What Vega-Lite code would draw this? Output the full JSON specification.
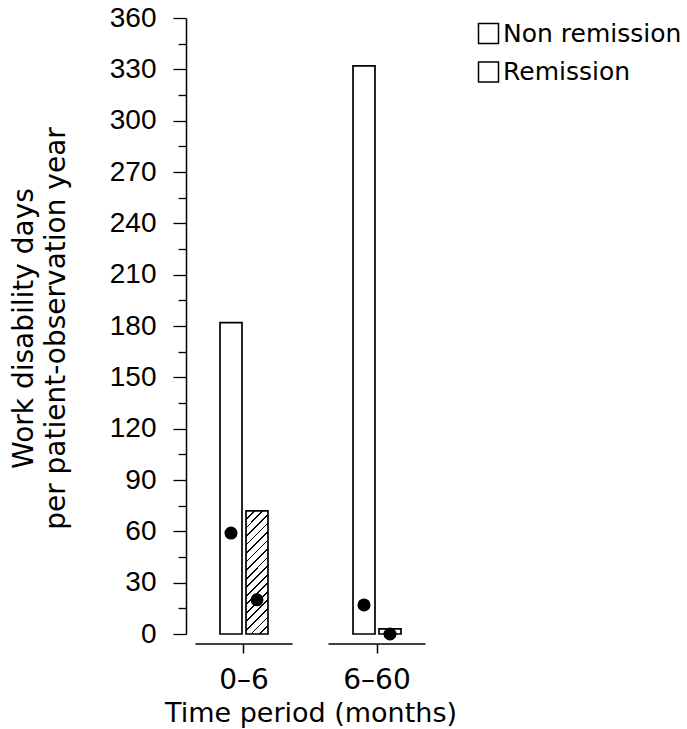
{
  "$schema": "https://vega.github.io/schema/vega-lite/v6.json",
  "width": 249,
  "height": 616,
  "autosize": {"type": "none"},
  "padding": {"left": 186, "top": 18, "right": 252, "bottom": 95},
  "background": "white",
  "config": {"view": {"stroke": null}, "font": "DejaVu Sans"},
  "data": {
    "values": [
      {"period": "0–6", "group": "Non remission", "days": 182, "dot": 59},
      {"period": "0–6", "group": "Remission", "days": 72, "dot": 20},
      {"period": "6–60", "group": "Non remission", "days": 332, "dot": 17},
      {"period": "6–60", "group": "Remission", "days": 3, "dot": 0}
    ]
  },
  "encoding": {
    "x": {
      "field": "period",
      "type": "nominal",
      "sort": null,
      "scale": {"domain": ["0–6", "6–60"], "paddingInner": 0.2707, "paddingOuter": 0.0714},
      "axis": {
        "title": "Time period (months)",
        "titleFont": "DejaVu Sans",
        "titleFontSize": 27,
        "titleFontWeight": "normal",
        "titleColor": "black",
        "titleY": 56,
        "titleBaseline": "top",
        "labelFont": "DejaVu Sans",
        "labelFontSize": 28,
        "labelColor": "black",
        "labelAngle": 0,
        "labelPadding": 13,
        "domain": false,
        "ticks": true,
        "tickSize": 9,
        "tickColor": "black",
        "tickWidth": 1.5,
        "offset": 10,
        "grid": false
      }
    }
  },
  "resolve": {"axis": {"y": "independent"}},
  "layer": [
    {
      "transform": [{"filter": "datum.group === 'Non remission'"}],
      "mark": {"type": "tick", "size": 97, "thickness": 1.5, "color": "black", "opacity": 1, "orient": "horizontal"},
      "encoding": {
        "y": {"datum": -5.84, "type": "quantitative", "axis": null}
      }
    },
    {
      "mark": {"type": "bar", "strokeWidth": 1.7},
      "encoding": {
        "xOffset": {
          "field": "group",
          "type": "nominal",
          "scale": {"domain": ["Non remission", "Remission"], "paddingInner": 0.154, "paddingOuter": 0.942}
        },
        "y": {
          "field": "days",
          "type": "quantitative",
          "scale": {"domain": [0, 360], "nice": false, "zero": true},
          "axis": {
            "title": ["Work disability days", "per patient-observation year"],
            "titleFont": "DejaVu Sans",
            "titleFontSize": 28,
            "titleFontWeight": "normal",
            "titleColor": "black",
            "titleLineHeight": 32,
            "titleX": -154,
            "titleY": 310,
            "titleAngle": -90,
            "titleAlign": "center",
            "titleBaseline": "alphabetic",
            "values": [0, 30, 60, 90, 120, 150, 180, 210, 240, 270, 300, 330, 360],
            "format": "d",
            "labelFont": "Liberation Sans",
            "labelFontSize": 28,
            "labelColor": "black",
            "labelPadding": 17,
            "tickSize": 13,
            "tickColor": "black",
            "tickWidth": 1.3,
            "domainColor": "black",
            "domainWidth": 1.5,
            "grid": false
          }
        },
        "fill": {
          "condition": {
            "test": "datum.group === 'Remission' && datum.days > 10",
            "value": {
              "gradient": "linear",
              "x1": 0, "y1": 0, "x2": 0.2043, "y2": 1.1423,
              "stops": [
                {"offset": 0, "color": "white"},
                {"offset": 0.0528, "color": "white"}, {"offset": 0.0528, "color": "black"}, {"offset": 0.0648, "color": "black"}, {"offset": 0.0648, "color": "white"},
                {"offset": 0.1116, "color": "white"}, {"offset": 0.1116, "color": "black"}, {"offset": 0.1236, "color": "black"}, {"offset": 0.1236, "color": "white"},
                {"offset": 0.1705, "color": "white"}, {"offset": 0.1705, "color": "black"}, {"offset": 0.1825, "color": "black"}, {"offset": 0.1825, "color": "white"},
                {"offset": 0.2293, "color": "white"}, {"offset": 0.2293, "color": "black"}, {"offset": 0.2413, "color": "black"}, {"offset": 0.2413, "color": "white"},
                {"offset": 0.2881, "color": "white"}, {"offset": 0.2881, "color": "black"}, {"offset": 0.3001, "color": "black"}, {"offset": 0.3001, "color": "white"},
                {"offset": 0.3469, "color": "white"}, {"offset": 0.3469, "color": "black"}, {"offset": 0.3589, "color": "black"}, {"offset": 0.3589, "color": "white"},
                {"offset": 0.4058, "color": "white"}, {"offset": 0.4058, "color": "black"}, {"offset": 0.4178, "color": "black"}, {"offset": 0.4178, "color": "white"},
                {"offset": 0.4646, "color": "white"}, {"offset": 0.4646, "color": "black"}, {"offset": 0.4766, "color": "black"}, {"offset": 0.4766, "color": "white"},
                {"offset": 0.5234, "color": "white"}, {"offset": 0.5234, "color": "black"}, {"offset": 0.5354, "color": "black"}, {"offset": 0.5354, "color": "white"},
                {"offset": 0.5822, "color": "white"}, {"offset": 0.5822, "color": "black"}, {"offset": 0.5942, "color": "black"}, {"offset": 0.5942, "color": "white"},
                {"offset": 0.6411, "color": "white"}, {"offset": 0.6411, "color": "black"}, {"offset": 0.6531, "color": "black"}, {"offset": 0.6531, "color": "white"},
                {"offset": 0.6999, "color": "white"}, {"offset": 0.6999, "color": "black"}, {"offset": 0.7119, "color": "black"}, {"offset": 0.7119, "color": "white"},
                {"offset": 0.7587, "color": "white"}, {"offset": 0.7587, "color": "black"}, {"offset": 0.7707, "color": "black"}, {"offset": 0.7707, "color": "white"},
                {"offset": 0.8175, "color": "white"}, {"offset": 0.8175, "color": "black"}, {"offset": 0.8295, "color": "black"}, {"offset": 0.8295, "color": "white"},
                {"offset": 0.8764, "color": "white"}, {"offset": 0.8764, "color": "black"}, {"offset": 0.8884, "color": "black"}, {"offset": 0.8884, "color": "white"},
                {"offset": 0.9352, "color": "white"}, {"offset": 0.9352, "color": "black"}, {"offset": 0.9472, "color": "black"}, {"offset": 0.9472, "color": "white"},
                {"offset": 1, "color": "white"}
              ]
            }
          },
          "value": "white"
        },
        "stroke": {
          "field": "group",
          "type": "nominal",
          "scale": {"domain": ["Non remission", "Remission"], "range": ["black", "black"]},
          "legend": {
            "title": null,
            "orient": "right",
            "offset": 38,
            "padding": 3,
            "symbolType": "square",
            "symbolSize": 400,
            "symbolStrokeWidth": 1.5,
            "symbolOpacity": 1,
            "labelFont": "DejaVu Sans",
            "labelFontSize": 25,
            "labelColor": "black",
            "labelOffset": 2,
            "labelLimit": 400,
            "rowPadding": 11.5,
            "encode": {
              "symbols": {
                "update": {
                  "fill": [
                    {
                      "test": "datum.value === 'Remission'",
                      "value": {
                        "gradient": "linear",
                        "x1": 0, "y1": 0, "x2": 1, "y2": 1,
                        "stops": [
                          {"offset": 0, "color": "white"},
                          {"offset": 0.465, "color": "white"},
                          {"offset": 0.465, "color": "black"},
                          {"offset": 0.535, "color": "black"},
                          {"offset": 0.535, "color": "white"},
                          {"offset": 1, "color": "white"}
                        ]
                      }
                    },
                    {"value": "white"}
                  ],
                  "opacity": {"value": 1},
                  "strokeWidth": {"value": 1.5}
                }
              }
            }
          }
        }
      }
    },
    {
      "mark": {"type": "point", "filled": true, "color": "black", "opacity": 1, "size": 170},
      "encoding": {
        "xOffset": {
          "field": "group",
          "type": "nominal",
          "scale": {"domain": ["Non remission", "Remission"], "paddingInner": 0.154, "paddingOuter": 0.942}
        },
        "y": {
          "field": "dot",
          "type": "quantitative",
          "axis": {
            "orient": "left",
            "title": null,
            "values": [15, 45, 75, 105, 135, 165, 195, 225, 255, 285, 315, 345],
            "labels": false,
            "domain": false,
            "ticks": true,
            "tickSize": 8,
            "tickColor": "black",
            "tickWidth": 1.3,
            "grid": false
          }
        }
      }
    }
  ]
}
